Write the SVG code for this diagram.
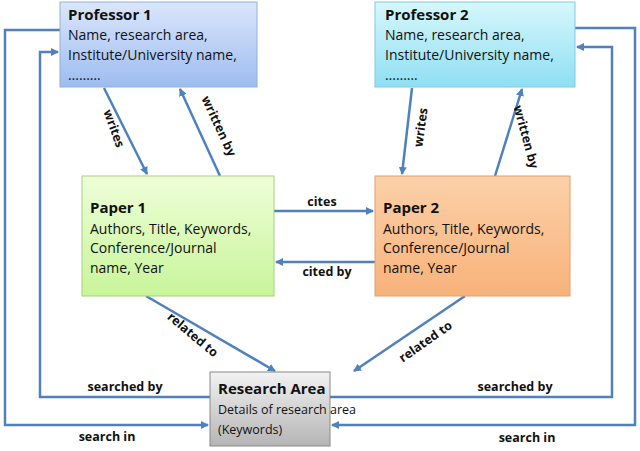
<svg xmlns="http://www.w3.org/2000/svg" width="640" height="451" viewBox="0 0 640 451">
<style>
text{font-family:"Open Sans","Liberation Sans",sans-serif;font-size:14px;fill:#111}
.t{font-weight:bold;font-size:15px}
.l{font-weight:bold;font-size:12.5px}
.c{fill:none;stroke:#4f81bd;stroke-width:2.5}
</style>
<defs>
<marker id="a" markerWidth="8" markerHeight="8" refX="7" refY="4" orient="auto" markerUnits="userSpaceOnUse"><path d="M0,0 L8,4 L0,8 z" fill="#4f81bd"/></marker>
<linearGradient id="g1" x1="0" y1="0" x2="0" y2="1"><stop offset="0" stop-color="#dbe6fb"/><stop offset="1" stop-color="#9dbcf0"/></linearGradient>
<linearGradient id="g2" x1="0" y1="0" x2="0" y2="1"><stop offset="0" stop-color="#d6f7fc"/><stop offset="1" stop-color="#8fdff3"/></linearGradient>
<linearGradient id="g3" x1="0" y1="0" x2="0" y2="1"><stop offset="0" stop-color="#eefed8"/><stop offset="1" stop-color="#c8f59a"/></linearGradient>
<linearGradient id="g4" x1="0" y1="0" x2="0" y2="1"><stop offset="0" stop-color="#fcd0a8"/><stop offset="1" stop-color="#f8b27a"/></linearGradient>
<linearGradient id="g5" x1="0" y1="0" x2="0" y2="1"><stop offset="0" stop-color="#f2f2f2"/><stop offset="1" stop-color="#b5b5b5"/></linearGradient>
</defs>
<g id="connectors">
<path class="c" d="M60,30 H5 V425 H208" marker-end="url(#a)"/>
<path class="c" d="M210,397 H40 V52 H58" marker-end="url(#a)"/>
<path class="c" d="M575,28 H635 V425 H332" marker-end="url(#a)"/>
<path class="c" d="M330,397 H612 V47 H577" marker-end="url(#a)"/>
<path class="c" d="M104,88 L147,174" marker-end="url(#a)"/>
<path class="c" d="M220,176 L180,89" marker-end="url(#a)"/>
<path class="c" d="M412,88 L402,174" marker-end="url(#a)"/>
<path class="c" d="M495,176 L522,89" marker-end="url(#a)"/>
<path class="c" d="M274,211 H373" marker-end="url(#a)"/>
<path class="c" d="M375,262 H276" marker-end="url(#a)"/>
<path class="c" d="M146,296 L275,371" marker-end="url(#a)"/>
<path class="c" d="M465,296 L354,371" marker-end="url(#a)"/>
<text class="l" x="322" y="206" text-anchor="middle">cites</text>
<text class="l" x="327" y="276" text-anchor="middle">cited by</text>
<text class="l" transform="translate(110,130) rotate(70)" text-anchor="middle">writes</text>
<text class="l" transform="translate(215,128) rotate(65)" text-anchor="middle">written by</text>
<text class="l" transform="translate(425,128) rotate(-82)" text-anchor="middle">writes</text>
<text class="l" transform="translate(522,138) rotate(75)" text-anchor="middle">written by</text>
<text class="l" transform="translate(190,338) rotate(40)" text-anchor="middle">related to</text>
<text class="l" transform="translate(428,345) rotate(-35)" text-anchor="middle">related to</text>
<text class="l" x="125" y="391" text-anchor="middle">searched by</text>
<text class="l" x="107" y="441" text-anchor="middle">search in</text>
<text class="l" x="515" y="391" text-anchor="middle">searched by</text>
<text class="l" x="527" y="442" text-anchor="middle">search in</text>
</g>
<g id="prof1"><rect x="60" y="2" width="197" height="85" fill="url(#g1)" stroke="#8eb0e0"/>
<text class="t" x="68" y="20">Professor 1</text><text x="68" y="40">Name, research area,</text><text x="68" y="60">Institute/University name,</text><text x="68" y="80">………</text></g>
<g id="prof2"><rect x="375" y="2" width="200" height="85" fill="url(#g2)" stroke="#7fcbe0"/>
<text class="t" x="385" y="20">Professor 2</text><text x="385" y="40">Name, research area,</text><text x="385" y="60">Institute/University name,</text><text x="385" y="80">………</text></g>
<g id="paper1"><rect x="82" y="176" width="192" height="120" fill="url(#g3)" stroke="#a8d080"/>
<text class="t" x="90" y="213">Paper 1</text><text x="90" y="234">Authors, Title, Keywords,</text><text x="90" y="253">Conference/Journal</text><text x="90" y="273">name, Year</text></g>
<g id="paper2"><rect x="375" y="176" width="195" height="120" fill="url(#g4)" stroke="#e0a070"/>
<text class="t" x="383" y="213">Paper 2</text><text x="383" y="234">Authors, Title, Keywords,</text><text x="383" y="253">Conference/Journal</text><text x="383" y="273">name, Year</text></g>
<g id="research"><rect x="210" y="372" width="120" height="74" fill="url(#g5)" stroke="#888"/>
<text class="t" x="218" y="394">Research Area</text><text x="218" y="414" style="font-size:12.5px">Details of research area</text><text x="218" y="434" style="font-size:12.5px">(Keywords)</text></g>
</svg>
